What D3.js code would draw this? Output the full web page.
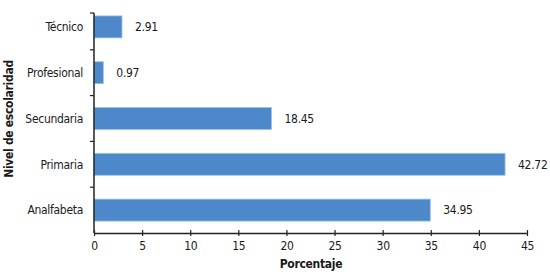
<!DOCTYPE html>
<html>
<head>
<meta charset="utf-8">
<script src="https://cdn.jsdelivr.net/npm/d3@7"></script>
<style>
  body { margin: 0; background: #fff; }
  text { font-family: "DejaVu Sans Condensed", "Liberation Sans Narrow", sans-serif; fill: #1a1a1a; letter-spacing: -0.3px; }
</style>
</head>
<body>
<svg id="chart" width="550" height="277"></svg>
<script>
// data
const categories = ['Técnico', 'Profesional', 'Secundaria', 'Primaria', 'Analfabeta'];
const values = [2.91, 0.97, 18.45, 42.72, 34.95];
const xTicks = [0, 5, 10, 15, 20, 25, 30, 35, 40, 45];

const svg = d3.select('#chart');
const margin = { left: 94, right: 23, top: 4, bottom: 44 };
const width = 550, height = 277;
const fs = 12;

const x = d3.scaleLinear().domain([0, 45]).range([margin.left, width - margin.right]);
const y = d3.scaleBand().domain(categories)
  .range([margin.top, height - margin.bottom]).paddingInner(0.52).paddingOuter(0.26);

// bars
svg.append('g').selectAll('rect')
  .data(categories)
  .join('rect')
    .attr('x', x(0))
    .attr('y', d => y(d))
    .attr('width', (d, i) => x(values[i]) - x(0))
    .attr('height', y.bandwidth())
    .attr('fill', '#4d89ca')
    .attr('stroke', '#9cc3ea')
    .attr('stroke-width', 0.8);

// value labels
svg.append('g').selectAll('text')
  .data(categories)
  .join('text')
    .attr('x', (d, i) => x(values[i]) + 13)
    .attr('y', d => y(d) + y.bandwidth() / 2)
    .attr('dy', '0.35em')
    .attr('font-size', fs)
    .text((d, i) => values[i].toFixed(2));

// x axis
const xAxis = svg.append('g')
  .attr('transform', `translate(0,${height - margin.bottom})`)
  .call(d3.axisBottom(x).tickValues(xTicks).tickSize(4).tickSizeOuter(0));
xAxis.select('.domain').attr('stroke', '#222').attr('stroke-width', 1.5);
xAxis.selectAll('.tick line').attr('stroke', '#222').attr('stroke-width', 1.2)
  .attr('y1', -3).attr('y2', 3);
xAxis.selectAll('.tick text').attr('font-size', fs).attr('y', 8)
  .style('font-family', '"DejaVu Sans Condensed", sans-serif').attr('fill', '#1a1a1a');

// y axis: line with ticks at band boundaries
const yTop = 13, yBottom = height - margin.bottom;
const step = y.step();
const boundaries = d3.range(categories.length).map(i => y(categories[i]) - step * y.paddingInner() / 2);
const yAxis = svg.append('g');
yAxis.append('line')
  .attr('x1', x(0)).attr('x2', x(0))
  .attr('y1', yTop).attr('y2', yBottom)
  .attr('stroke', '#222').attr('stroke-width', 1.5);
yAxis.selectAll('line.tick')
  .data(boundaries)
  .join('line')
    .attr('class', 'tick')
    .attr('x1', x(0) - 4).attr('x2', x(0))
    .attr('y1', d => Math.max(d, yTop)).attr('y2', d => Math.max(d, yTop))
    .attr('stroke', '#222').attr('stroke-width', 1.2);

// category labels
svg.append('g').selectAll('text')
  .data(categories)
  .join('text')
    .attr('x', x(0) - 11)
    .attr('y', d => y(d) + y.bandwidth() / 2)
    .attr('dy', '0.35em')
    .attr('text-anchor', 'end')
    .attr('font-size', fs)
    .text(d => d);

// axis titles
svg.append('text')
  .attr('x', 311).attr('y', 268)
  .attr('text-anchor', 'middle')
  .attr('font-size', fs).attr('font-weight', 'bold')
  .text('Porcentaje');

svg.append('text')
  .attr('transform', `translate(13,${(yTop + yBottom) / 2 - 4}) rotate(-90)`)
  .attr('text-anchor', 'middle')
  .attr('font-size', fs).attr('font-weight', 'bold')
  .text('Nivel de escolaridad');
</script>
</body>
</html>
